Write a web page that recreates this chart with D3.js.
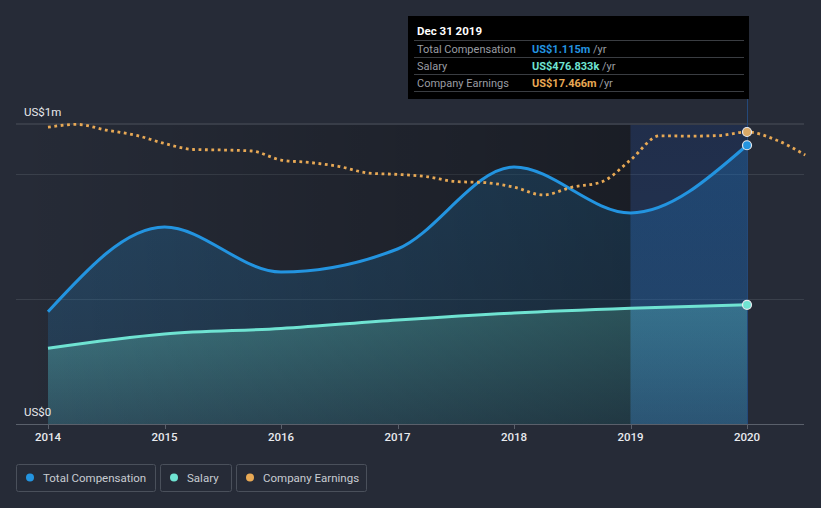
<!DOCTYPE html>
<html>
<head>
<meta charset="utf-8">
<script src="https://cdn.jsdelivr.net/npm/d3@7/dist/d3.min.js"></script>
<style>
  html, body { margin: 0; padding: 0; background: #262b37; }
  svg { display: block; font-family: Roboto, "Noto Sans", sans-serif; }
</style>
</head>
<body>
<svg id="chart" width="821" height="508"></svg>
<script>
// ---- data ----
const compYears = [2014, 2015, 2016, 2017, 2018, 2019, 2020];
const totalComp = [449000, 788000, 608000, 700000, 1028000, 844000, 1115000];
const salary = [303000, 360000, 382000, 416000, 444000, 463000, 476833];
const earnYears = [2014, 2014.25, 2014.5, 2014.75, 2015, 2015.25, 2015.5, 2015.75,
  2016, 2016.25, 2016.5, 2016.75, 2017, 2017.25, 2017.5, 2017.75,
  2018, 2018.25, 2018.5, 2018.75, 2019, 2019.25, 2019.5, 2019.75,
  2020, 2020.25, 2020.5];
const earnings = [17.75, 17.92, 17.58, 17.28, 16.78, 16.42, 16.39, 16.33,
  15.79, 15.64, 15.40, 15.01, 14.93, 14.80, 14.50, 14.44,
  14.17, 13.70, 14.17, 14.47, 15.79, 17.24, 17.22, 17.25,
  17.466, 16.99, 16.09];
const xTickYears = [2014, 2015, 2016, 2017, 2018, 2019, 2020];
const gridValues = [500000, 1000000];
const yLabels = [{v: 0, t: "US$0"}, {v: 1200000, t: "US$1m"}];
const legendItems = [
  {name: "Total Compensation", color: "#2394e0"},
  {name: "Salary", color: "#6fe3d2"},
  {name: "Company Earnings", color: "#e8a955"}
];
const tooltipTitle = "Dec 31 2019";
const tooltipRows = [
  {label: "Total Compensation", value: "US$1.115m", color: "#2394e0"},
  {label: "Salary", value: "US$476.833k", color: "#6fe3d2"},
  {label: "Company Earnings", value: "US$17.466m", color: "#e8a955"}
];

// ---- scales ----
const svg = d3.select("#chart");
const x = d3.scaleLinear().domain([2014, 2020]).range([48, 747]);
const y = d3.scaleLinear().domain([0, 1200000]).range([424, 124]);
const yE = d3.scaleLinear().domain([0, 17.466]).range([424, 132]);
const xLeft = 16, xRight = 804;
const hlStart = 2019, hlEnd = 2020;

const defs = svg.append("defs");
const gDark = defs.append("linearGradient").attr("id", "dark").attr("x1", 0).attr("x2", 1).attr("y1", 0).attr("y2", 0);
gDark.append("stop").attr("offset", 0).attr("stop-color", "#000").attr("stop-opacity", 0.0);
gDark.append("stop").attr("offset", 1).attr("stop-color", "#000").attr("stop-opacity", 0.32);
const gComp = defs.append("linearGradient").attr("id", "compFill").attr("x1", 0).attr("x2", 0).attr("y1", 0).attr("y2", 1);
gComp.append("stop").attr("offset", 0).attr("stop-color", "#2394e0").attr("stop-opacity", 0.28);
gComp.append("stop").attr("offset", 1).attr("stop-color", "#2394e0").attr("stop-opacity", 0.14);
const gSal = defs.append("linearGradient").attr("id", "salFill").attr("x1", 0).attr("x2", 0).attr("y1", 0).attr("y2", 1);
gSal.append("stop").attr("offset", 0).attr("stop-color", "#6fe3d2").attr("stop-opacity", 0.36);
gSal.append("stop").attr("offset", 1).attr("stop-color", "#6fe3d2").attr("stop-opacity", 0.14);
const gHl = defs.append("linearGradient").attr("id", "hlFill").attr("x1", 0).attr("x2", 0).attr("y1", 0).attr("y2", 1);
gHl.append("stop").attr("offset", 0).attr("stop-color", "#0a3a9a").attr("stop-opacity", 0.20);
gHl.append("stop").attr("offset", 1).attr("stop-color", "#1c5fb0").attr("stop-opacity", 0.24);

// gridlines
svg.append("line").attr("x1", xLeft).attr("x2", xRight).attr("y1", y(1200000)).attr("y2", y(1200000))
  .attr("stroke", "#4a505b").attr("stroke-width", 1);
svg.selectAll(".grid").data(gridValues).enter().append("line")
  .attr("x1", xLeft).attr("x2", xRight)
  .attr("y1", d => Math.round(y(d)) + 0.5).attr("y2", d => Math.round(y(d)) + 0.5)
  .attr("stroke", "#3a404b").attr("stroke-width", 1);

// areas
const areaComp = d3.area().x((d, i) => x(compYears[i])).y0(y(0)).y1(d => y(d)).curve(d3.curveMonotoneX);
const lineComp = d3.line().x((d, i) => x(compYears[i])).y(d => y(d)).curve(d3.curveMonotoneX);
svg.append("path").datum(totalComp).attr("d", areaComp).attr("fill", "url(#compFill)");
svg.append("path").datum(salary).attr("d", areaComp).attr("fill", "url(#salFill)");

// dark overlay across pre-highlight region
svg.append("rect").attr("x", xLeft).attr("y", y(1200000) + 1).attr("width", x(hlStart) - xLeft)
  .attr("height", y(0) - y(1200000) - 1).attr("fill", "url(#dark)");
// highlight band
svg.append("rect").attr("x", x(hlStart)).attr("y", y(1200000) + 1).attr("width", x(hlEnd) - x(hlStart))
  .attr("height", y(0) - y(1200000) - 1).attr("fill", "url(#hlFill)");
// hover line
svg.append("line").attr("x1", x(2020) + 0.5).attr("x2", x(2020) + 0.5).attr("y1", 99).attr("y2", y(0))
  .attr("stroke", "#24497a").attr("stroke-width", 1);

// lines
svg.append("path").datum(salary).attr("d", lineComp).attr("fill", "none")
  .attr("stroke", "#6fe3d2").attr("stroke-width", 3);
svg.append("path").datum(totalComp).attr("d", lineComp).attr("fill", "none")
  .attr("stroke", "#2394e0").attr("stroke-width", 3);
const lineEarn = d3.line().x((d, i) => x(earnYears[i])).y(d => yE(d)).curve(d3.curveMonotoneX);
svg.append("path").datum(earnings).attr("d", lineEarn).attr("fill", "none")
  .attr("stroke", "#e8a955").attr("stroke-width", 2.8).attr("stroke-dasharray", "2.8,3.6");

// end points
const pts = [
  {cx: x(2020), cy: yE(earnings[24]), fill: "#d9a866"},
  {cx: x(2020), cy: y(totalComp[6]), fill: "#2394e0"},
  {cx: x(2020), cy: y(salary[6]), fill: "#6fe3d2"}
];
svg.selectAll(".pt").data(pts).enter().append("circle")
  .attr("cx", d => d.cx).attr("cy", d => d.cy).attr("r", 4.5)
  .attr("fill", d => d.fill).attr("stroke", "#e6e9ee").attr("stroke-width", 1.2);

// x axis
const xAxis = svg.append("g");
xAxis.append("line").attr("x1", xLeft).attr("x2", xRight).attr("y1", 424.5).attr("y2", 424.5)
  .attr("stroke", "#5a606b").attr("stroke-width", 1);
xAxis.selectAll(".tick").data(xTickYears).enter().append("line")
  .attr("x1", d => Math.round(x(d)) + 0.5).attr("x2", d => Math.round(x(d)) + 0.5)
  .attr("y1", 424).attr("y2", 429).attr("stroke", "#5a606b");
xAxis.selectAll(".tl").data(xTickYears).enter().append("text")
  .attr("x", d => x(d)).attr("y", 441).attr("text-anchor", "middle")
  .attr("fill", "#e8eaee").attr("font-size", 11.5).attr("font-weight", 500).text(d => d);

// y labels
svg.selectAll(".yl").data(yLabels).enter().append("text")
  .attr("x", 24).attr("y", d => y(d.v) - 8).attr("fill", "#e8eaee").attr("font-size", 11.5)
  .text(d => d.t);

// legend
const legend = svg.append("g");
let lx = 16;
const widths = [139, 71, 130];
legendItems.forEach((it, i) => {
  const g = legend.append("g").attr("transform", `translate(${lx},464)`);
  g.append("rect").attr("x", 0.5).attr("y", 0.5).attr("width", widths[i]).attr("height", 27).attr("rx", 2)
    .attr("fill", "none").attr("stroke", "#4a505b");
  g.append("circle").attr("cx", 14).attr("cy", 13.5).attr("r", 4).attr("fill", it.color);
  g.append("text").attr("x", 27).attr("y", 17.5).attr("fill", "#c8ccd2").attr("font-size", 11.5).text(it.name);
  lx += widths[i] + 5;
});

// tooltip
const tt = svg.append("g").attr("transform", "translate(408,16)");
tt.append("rect").attr("width", 341).attr("height", 83).attr("fill", "#000");
tt.append("text").attr("x", 9).attr("y", 19).attr("fill", "#fff").attr("font-size", 11.5)
  .attr("font-weight", 700).text(tooltipTitle);
[24.5, 41.5, 58.5, 75.5].forEach(yy => {
  tt.append("line").attr("x1", 6).attr("x2", 336).attr("y1", yy).attr("y2", yy)
    .attr("stroke", "#3a3d42").attr("stroke-width", 1);
});
tooltipRows.forEach((r, i) => {
  const yy = 37 + i * 17;
  tt.append("text").attr("x", 9).attr("y", yy).attr("fill", "#9a9da3").attr("font-size", 11).text(r.label);
  const t = tt.append("text").attr("x", 124).attr("y", yy).attr("font-size", 11);
  t.append("tspan").attr("fill", r.color).attr("font-weight", 700).text(r.value);
  t.append("tspan").attr("fill", "#9a9da3").text(" /yr");
});
</script>
</body>
</html>
